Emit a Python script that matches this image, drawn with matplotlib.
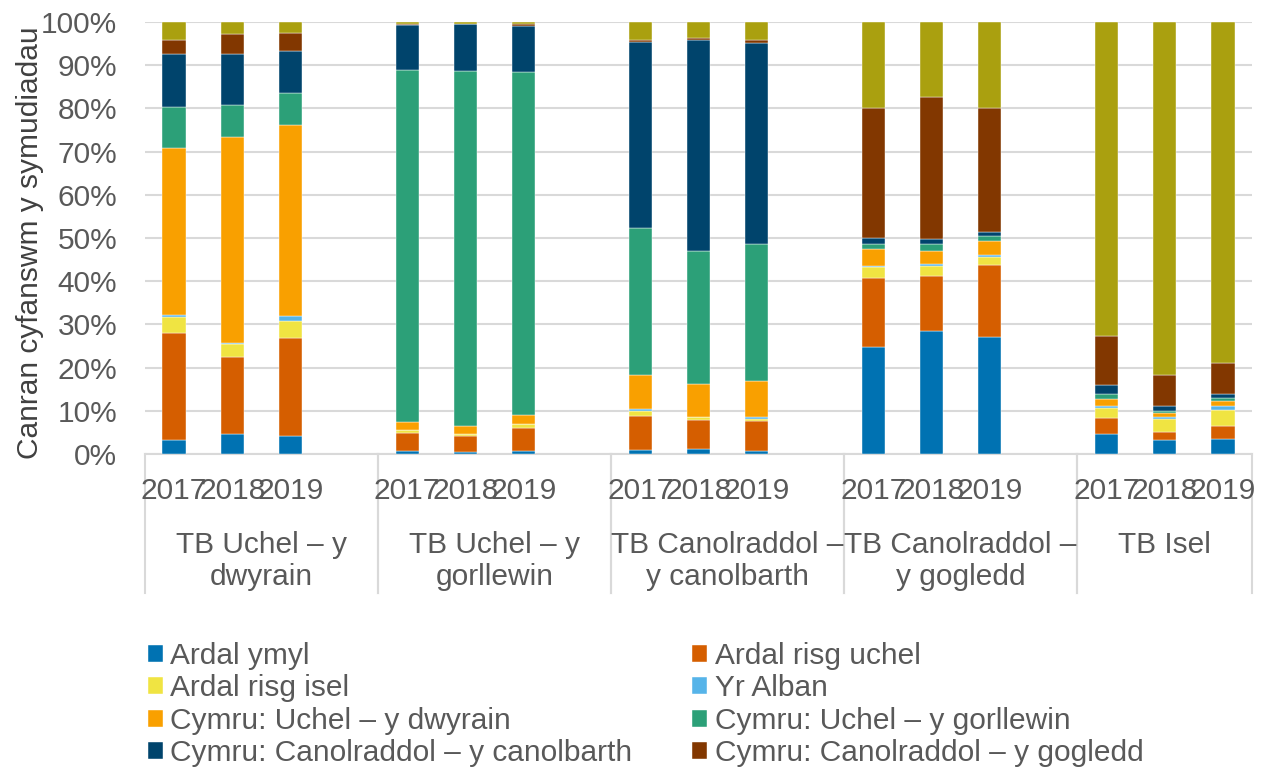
import matplotlib
matplotlib.use("Agg")
import matplotlib.pyplot as plt
import numpy as np
from matplotlib.lines import Line2D

plt.rcParams['font.family'] = ['Liberation Sans', 'DejaVu Sans']

groups = ["TB Uchel – y\ndwyrain", "TB Uchel – y\ngorllewin", "TB Canolraddol –\ny canolbarth",
          "TB Canolraddol –\ny gogledd", "TB Isel"]
years = ["2017", "2018", "2019"]

series_names = ["Ardal ymyl", "Ardal risg uchel", "Ardal risg isel", "Yr Alban",
                "Cymru: Uchel – y dwyrain", "Cymru: Uchel – y gorllewin",
                "Cymru: Canolraddol – y canolbarth", "Cymru: Canolraddol – y gogledd",
                "Lloegr"]
colors = ["#0072B2", "#D55E00", "#F0E442", "#56B4E9", "#F9A000", "#2CA078",
          "#00446C", "#823700", "#AAA00F"]

# values (%) per bar, order: group1 2017-2019, group2 ..., group5
ardal_ymyl =   [3.2, 4.6, 4.2,  0.7, 0.5, 0.6,  0.9, 1.1, 0.6,  24.8, 28.5, 27.0,  4.7, 3.3, 3.5]
risg_uchel =   [24.9, 17.9, 22.7,  4.2, 3.7, 5.5,  8.0, 6.8, 7.1,  16.0, 12.7, 16.8,  3.7, 1.9, 3.0]
risg_isel =    [3.5, 3.0, 4.0,  0.6, 0.4, 0.8,  1.1, 0.6, 0.5,  2.5, 2.3, 1.9,  2.3, 3.0, 3.8]
yr_alban =     [0.5, 0.3, 1.0,  0.1, 0.1, 0.1,  0.4, 0.1, 0.3,  0.2, 0.5, 0.4,  0.5, 0.4, 0.9]
uchel_dwyrain = [38.8, 47.5, 44.3,  1.8, 1.7, 2.1,  8.0, 7.7, 8.4,  4.0, 3.0, 3.3,  1.5, 0.9, 1.1]
uchel_gorllewin = [9.4, 7.5, 7.4,  81.5, 82.3, 79.3,  33.9, 30.7, 31.7,  1.1, 1.6, 1.0,  1.3, 0.5, 0.6]
canol_canolbarth = [12.4, 11.9, 9.6,  10.4, 10.8, 10.6,  43.0, 48.8, 46.5,  1.3, 1.1, 1.1,  1.9, 1.0, 1.1]
canol_gogledd = [3.2, 4.6, 4.3,  0.3, 0.1, 0.6,  0.6, 0.5, 0.8,  30.3, 33.0, 28.7,  11.3, 7.4, 7.1]
lloegr =       [4.1, 2.7, 2.5,  0.5, 0.5, 0.5,  4.1, 3.7, 4.1,  19.8, 17.3, 19.8,  72.8, 81.6, 78.9]

data = [ardal_ymyl, risg_uchel, risg_isel, yr_alban, uchel_dwyrain, uchel_gorllewin,
        canol_canolbarth, canol_gogledd, lloegr]

# x positions: 4 slots per group (3 years + gap), last group without gap
xpos = []
for g in range(len(groups)):
    for i in range(len(years)):
        xpos.append(g * 4 + i)
xpos = np.array(xpos)
nslots = 4 * len(groups) - 1

W, H = 1267, 771
FS = 21.5
fig = plt.figure(figsize=(W / 100, H / 100), dpi=100)
ax = fig.add_axes([145 / W, 1 - 454 / H, (1252 - 145) / W, (454 - 22) / H])

grey = "#595959"
gridc = "#D9D9D9"

bottom = np.zeros(len(xpos))
handles = []
for name, vals, c in zip(series_names, data, colors):
    v = np.array(vals)
    b = ax.bar(xpos, v, bottom=bottom, width=0.4, color=c, edgecolor='white',
               linewidth=0.3, label=name, zorder=3)
    handles.append(b)
    bottom += v

ax.set_xlim(-0.5, nslots - 0.5)
ax.set_ylim(0, 100)
ax.set_yticks(np.arange(0, 101, 10))
ax.set_yticklabels([f"{t}%" for t in range(0, 101, 10)], fontsize=FS, color=grey)
ax.tick_params(axis='y', length=0, pad=20)
ax.yaxis.grid(True, color=gridc, linewidth=1.5, zorder=0)
ax.set_axisbelow(True)
for s in ["top", "right", "left"]:
    ax.spines[s].set_visible(False)
ax.spines["bottom"].set_color(gridc)
ax.spines["bottom"].set_linewidth(1.5)
ax.set_xticks([])

ax.set_ylabel("Canran cyfanswm y symudiadau", fontsize=FS, color="#404040")
ax.yaxis.set_label_coords(-0.091, 0.49)

trans = ax.get_xaxis_transform()
ah = 454 - 22
for x, yr in zip(xpos, years * len(groups)):
    ax.text(x, -(491 - 454) / ah, yr, ha='center', va='center', fontsize=FS,
            color=grey, transform=trans)

for g, name in enumerate(groups):
    x0 = g * 4 - 0.5
    x1 = min(g * 4 + 3.5, nslots - 0.5)
    ax.text((x0 + x1) / 2, -(531 - 454) / ah, name, ha='center', va='top',
            fontsize=FS, color=grey, transform=trans, linespacing=1.2)
    for xb in (x0, x1):
        ax.add_line(Line2D([xb, xb], [0, -(593 - 454) / ah], transform=trans,
                           color=gridc, linewidth=1.5, clip_on=False))

order = [0, 2, 4, 6, 1, 3, 5, 7]
leg = fig.legend([handles[i] for i in order], [series_names[i] for i in order],
                 ncol=2, loc='upper left', bbox_to_anchor=(148 / W, 1 - 642 / H),
                 frameon=False, fontsize=FS, handlelength=0.5, handleheight=0.5,
                 handletextpad=0.25, labelspacing=0.15, columnspacing=2.0,
                 borderaxespad=0, borderpad=0)
for t in leg.get_texts():
    t.set_color(grey)

fig.savefig("out.png", dpi=100)
